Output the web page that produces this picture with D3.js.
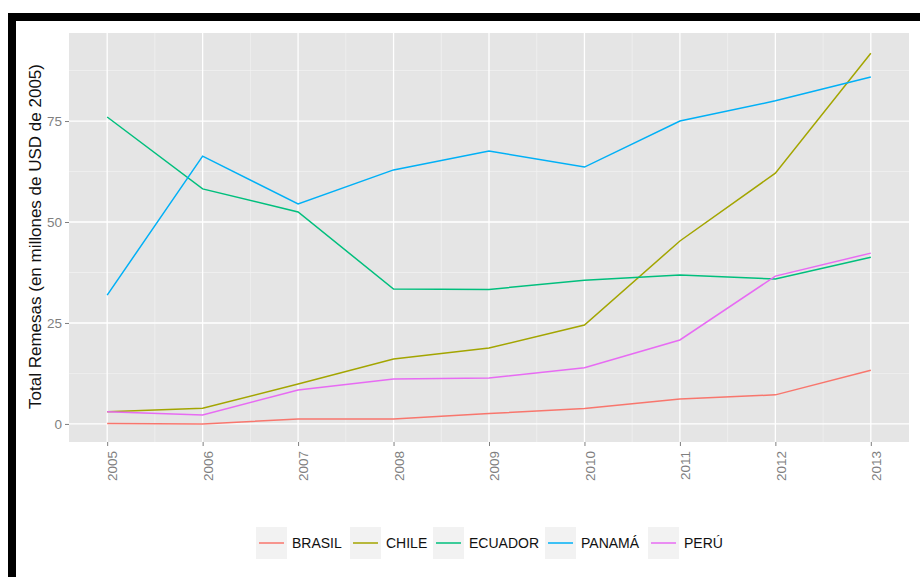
<!DOCTYPE html>
<html>
<head>
<meta charset="utf-8">
<style>
  body { margin: 0; background: #fff; }
  .tick text { font-family: "Liberation Sans", Arial, sans-serif; font-size: 13.5px; fill: #7f7f7f; }
</style>
<script src="https://d3js.org/d3.v7.min.js"></script>
</head>
<body>
<script>
const years = [2005, 2006, 2007, 2008, 2009, 2010, 2011, 2012, 2013];
const countries = ["BRASIL", "CHILE", "ECUADOR", "PANAMÁ", "PERÚ"];
const colors = ["#F8766D", "#A3A500", "#00BF7D", "#00B0F6", "#E76BF3"];
const brasil = [0.1, 0.0, 1.2, 1.2, 2.6, 3.8, 6.2, 7.2, 13.3];
const chile = [3.0, 3.9, 9.9, 16.1, 18.8, 24.5, 45.3, 62.1, 91.8];
const ecuador = [76.0, 58.2, 52.5, 33.4, 33.3, 35.6, 36.9, 35.9, 41.3];
const panama = [31.9, 66.3, 54.5, 62.9, 67.6, 63.6, 75.0, 80.0, 85.9];
const peru = [3.0, 2.2, 8.4, 11.1, 11.4, 13.9, 20.8, 36.6, 42.3];
const yTicks = [0, 25, 50, 75];
const series = [brasil, chile, ecuador, panama, peru];

const w = 920, h = 577;
const pLeft = 69, pRight = 909, pTop = 33, pBottom = 442;

const svg = d3.select("body").append("svg").attr("width", w).attr("height", h);

// black frame
svg.append("rect").attr("x", 8).attr("y", 13).attr("width", w - 8).attr("height", 8).attr("fill", "#000");
svg.append("rect").attr("x", 8).attr("y", 13).attr("width", 8).attr("height", h - 13).attr("fill", "#000");

const x = d3.scaleLinear().domain([2004.6, 2013.4]).range([pLeft, pRight]);
const y = d3.scaleLinear().domain([-4.47, 96.8]).range([pBottom, pTop]);

svg.append("rect").attr("x", pLeft).attr("y", pTop).attr("width", pRight - pLeft).attr("height", pBottom - pTop).attr("fill", "#e5e5e5");

// minor grid
const minorX = years.slice(1).map(d => d - 0.5);
const minorY = [12.5, 37.5, 62.5, 87.5];
svg.append("g").selectAll("line").data(minorX).enter().append("line")
  .attr("x1", d => x(d)).attr("x2", d => x(d)).attr("y1", pTop).attr("y2", pBottom)
  .attr("stroke", "#f2f2f2").attr("stroke-width", 0.7);
svg.append("g").selectAll("line").data(minorY).enter().append("line")
  .attr("y1", d => y(d)).attr("y2", d => y(d)).attr("x1", pLeft).attr("x2", pRight)
  .attr("stroke", "#f2f2f2").attr("stroke-width", 0.7);
// major grid
svg.append("g").selectAll("line").data(years).enter().append("line")
  .attr("x1", d => x(d)).attr("x2", d => x(d)).attr("y1", pTop).attr("y2", pBottom)
  .attr("stroke", "#fff").attr("stroke-width", 1.3);
svg.append("g").selectAll("line").data(yTicks).enter().append("line")
  .attr("y1", d => y(d)).attr("y2", d => y(d)).attr("x1", pLeft).attr("x2", pRight)
  .attr("stroke", "#fff").attr("stroke-width", 1.3);

// lines
const line = d3.line().x((d, i) => x(years[i])).y(d => y(d));
series.forEach((s, k) => {
  svg.append("path").datum(s).attr("d", line).attr("fill", "none")
    .attr("stroke", colors[k]).attr("stroke-width", 1.5);
});

// axes
const xAxis = d3.axisBottom(x).tickValues(years).tickFormat(d3.format("d")).tickSize(4).tickPadding(4);
const gx = svg.append("g").attr("transform", "translate(0," + pBottom + ")").call(xAxis);
gx.select(".domain").remove();
gx.selectAll(".tick line").attr("stroke", "#7f7f7f");
gx.selectAll(".tick text").attr("transform", "rotate(-90)").attr("text-anchor", "end")
  .attr("x", -9).attr("y", 5).attr("dy", "0.35em");

const yAxis = d3.axisLeft(y).tickValues(yTicks).tickSize(4).tickPadding(3);
const gy = svg.append("g").attr("transform", "translate(" + pLeft + ",0)").call(yAxis);
gy.select(".domain").remove();
gy.selectAll(".tick line").attr("stroke", "#7f7f7f");

svg.append("text").attr("transform", "translate(41," + ((pTop + pBottom) / 2 - 1) + ") rotate(-90)")
  .attr("text-anchor", "middle").attr("font-family", "Liberation Sans, Arial, sans-serif")
  .attr("font-size", 17).attr("fill", "#111").text("Total Remesas (en millones de USD de 2005)");

// legend
const legendX = [256, 350, 433, 545, 648];
const lg = svg.append("g");
countries.forEach((c, k) => {
  const g = lg.append("g").attr("transform", "translate(" + legendX[k] + ",527)");
  g.append("rect").attr("width", 31).attr("height", 32).attr("fill", "#f2f2f2");
  g.append("line").attr("x1", 3).attr("x2", 28).attr("y1", 16).attr("y2", 16)
    .attr("stroke", colors[k]).attr("stroke-width", 1.5);
  g.append("text").attr("x", 36).attr("y", 16).attr("dy", "0.36em")
    .attr("font-family", "Liberation Sans, Arial, sans-serif").attr("font-size", 14)
    .attr("fill", "#111").text(c);
});
</script>
</body>
</html>
